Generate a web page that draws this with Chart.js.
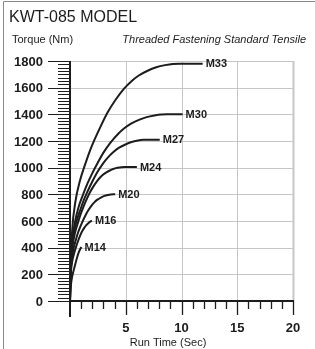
<!DOCTYPE html>
<html>
<head>
<meta charset="utf-8">
<script src="https://cdn.jsdelivr.net/npm/chart.js@4/dist/chart.umd.min.js"></script>
<style>
  html, body { margin: 0; padding: 0; background: #fff; }
  #wrap { width: 315px; height: 349px; }
</style>
</head>
<body>
<div id="wrap"><canvas id="torqueChart" width="315" height="349"></canvas></div>
<script>
// Bolt sizes (curve labels)
const boltSizes = ["M33", "M30", "M27", "M24", "M20", "M16", "M14"];

// Run time (sec) / torque (Nm)
const m33Time = [0, 0.05, 0.2, 0.49, 0.88, 1.32, 1.76, 2.2, 2.74, 3.38, 4.12, 4.85, 5.49, 6.17, 6.96, 7.74, 8.53, 9.21, 9.8, 11.9];
const m33Torque = [0, 249, 534, 748, 899, 1015, 1121, 1210, 1308, 1415, 1513, 1593, 1647, 1691, 1727, 1753, 1769, 1778, 1780, 1780];

const m30Time = [0, 0.04, 0.17, 0.44, 0.78, 1.17, 1.57, 1.96, 2.44, 3.0, 3.65, 4.31, 4.87, 5.48, 6.18, 6.87, 7.57, 8.18, 8.7, 10.1];
const m30Torque = [0, 196, 420, 588, 707, 798, 882, 952, 1029, 1113, 1190, 1253, 1295, 1330, 1358, 1379, 1392, 1399, 1400, 1400];

const m27Time = [0, 0.035, 0.14, 0.35, 0.63, 0.95, 1.26, 1.58, 1.96, 2.42, 2.94, 3.47, 3.92, 4.41, 4.97, 5.53, 6.09, 6.58, 7.0, 8.05];
const m27Torque = [0, 169, 363, 508, 611, 690, 762, 823, 889, 962, 1029, 1083, 1119, 1150, 1174, 1192, 1203, 1209, 1210, 1210];

const m24Time = [0, 0.025, 0.1, 0.25, 0.44, 0.66, 0.88, 1.1, 1.37, 1.69, 2.06, 2.43, 2.74, 3.09, 3.48, 3.87, 4.26, 4.61, 4.9, 6.0];
const m24Torque = [0, 141, 302, 422, 508, 573, 633, 683, 739, 799, 854, 899, 930, 955, 975, 990, 999, 1004, 1005, 1005];

const m20Time = [0, 0.02, 0.08, 0.2, 0.35, 0.53, 0.7, 0.88, 1.09, 1.35, 1.64, 1.93, 2.18, 2.46, 2.77, 3.08, 3.39, 3.67, 3.9, 4.05];
const m20Torque = [0, 112, 240, 336, 404, 460, 508, 548, 590, 636, 680, 716, 740, 760, 776, 788, 795, 799, 800, 800];

const m16Time = [0, 0.013, 0.052, 0.13, 0.23, 0.35, 0.47, 0.59, 0.73, 0.9, 1.09, 1.29, 1.46, 1.64, 1.85, 1.97];
const m16Torque = [0, 86, 185, 258, 311, 351, 387, 418, 452, 489, 523, 550, 569, 584, 597, 602];

const m14Time = [0, 0.02, 0.08, 0.2, 0.36, 0.5, 0.65, 0.8, 0.92, 1.03];
const m14Torque = [0, 60, 120, 185, 240, 285, 330, 368, 390, 405];

// Axis ticks
const xTickLabels = [5, 10, 15, 20];
const yTickLabels = [0, 200, 400, 600, 800, 1000, 1200, 1400, 1600, 1800];

const times = [m33Time, m30Time, m27Time, m24Time, m20Time, m16Time, m14Time];
const torques = [m33Torque, m30Torque, m27Torque, m24Torque, m20Torque, m16Torque, m14Torque];

const FONT = "'Liberation Sans', Arial, Helvetica, sans-serif";

const datasets = boltSizes.map((name, i) => ({
  label: name,
  data: times[i].map((t, j) => ({ x: t, y: torques[i][j] })),
  borderColor: "#1c1c1c",
  borderWidth: 2,
  pointRadius: 0,
  fill: false,
  cubicInterpolationMode: "monotone",
}));

// grid, axes, ticks and all text
const chartFrame = {
  id: "chartFrame",
  beforeDatasetsDraw(chart) {
    const { ctx, chartArea: a, scales: { x, y } } = chart;
    ctx.save();
    // outer border (top + left)
    ctx.strokeStyle = "#8a8a8a";
    ctx.lineWidth = 1;
    ctx.beginPath();
    ctx.moveTo(3.5, 349);
    ctx.lineTo(3.5, 1.5);
    ctx.lineTo(315, 1.5);
    ctx.stroke();

    ctx.strokeStyle = "#c6c6c6";
    yTickLabels.forEach((v) => {
      if (v === 0) return;
      const py = Math.round(y.getPixelForValue(v)) + 0.5;
      ctx.beginPath();
      ctx.moveTo(a.left, py);
      ctx.lineTo(a.right, py);
      ctx.stroke();
    });
    xTickLabels.forEach((v) => {
      const px = Math.round(x.getPixelForValue(v)) + 0.5;
      ctx.lineWidth = v === 20 ? 2 : 1;
      ctx.beginPath();
      ctx.moveTo(px, a.top);
      ctx.lineTo(px, a.bottom);
      ctx.stroke();
    });
    ctx.restore();
  },
  afterDatasetsDraw(chart) {
    const { ctx, chartArea: a, scales: { x, y } } = chart;
    ctx.save();
    ctx.strokeStyle = "#1c1c1c";

    // y minor/major ticks (every 25 Nm)
    ctx.lineWidth = 1;
    for (let v = 0; v <= 1800; v += 25) {
      const py = Math.round(y.getPixelForValue(v)) + 0.5;
      const len = v % 200 === 0 ? 22 : 12;
      ctx.beginPath();
      ctx.moveTo(a.left - len, py);
      ctx.lineTo(a.left, py);
      ctx.stroke();
    }
    // x ticks (every second)
    ctx.lineWidth = 1.3;
    for (let t = 1; t <= 20; t++) {
      const px = Math.round(x.getPixelForValue(t)) + 0.5;
      const len = t % 5 === 0 ? 14 : 8;
      ctx.beginPath();
      ctx.moveTo(px, a.bottom);
      ctx.lineTo(px, a.bottom + len);
      ctx.stroke();
    }
    // axis lines
    ctx.lineWidth = 2;
    ctx.beginPath();
    ctx.moveTo(a.left, a.top);
    ctx.lineTo(a.left, a.bottom + 16);
    ctx.stroke();
    ctx.beginPath();
    ctx.moveTo(a.left, a.bottom);
    ctx.lineTo(x.getPixelForValue(20) + 1, a.bottom);
    ctx.stroke();

    // tick labels
    ctx.fillStyle = "#1c1c1c";
    ctx.font = "bold 13px " + FONT;
    ctx.textAlign = "right";
    ctx.textBaseline = "alphabetic";
    yTickLabels.forEach((v) => {
      ctx.fillText(String(v), 43, y.getPixelForValue(v) + 4.6);
    });
    ctx.textAlign = "center";
    xTickLabels.forEach((v) => {
      ctx.fillText(String(v), x.getPixelForValue(v), 332);
    });

    // curve labels
    ctx.font = "bold 11px " + FONT;
    ctx.textAlign = "left";
    ctx.textBaseline = "middle";
    chart.data.datasets.forEach((ds) => {
      const last = ds.data[ds.data.length - 1];
      ctx.fillText(ds.label, x.getPixelForValue(last.x) + 3, y.getPixelForValue(last.y) + 0.5);
    });

    // titles
    ctx.textBaseline = "alphabetic";
    ctx.font = "16px " + FONT;
    ctx.fillText("KWT-085 MODEL", 9, 22);
    ctx.font = "11px " + FONT;
    ctx.fillText("Torque (Nm)", 12, 43);
    ctx.textAlign = "right";
    ctx.font = "italic 11px " + FONT;
    ctx.fillText("Threaded Fastening Standard Tensile", 306, 43);
    ctx.textAlign = "center";
    ctx.font = "11px " + FONT;
    ctx.fillText("Run Time (Sec)", 168, 346);
    ctx.restore();
  },
};

const torqueCtx = document.getElementById("torqueChart").getContext("2d");
const torqueChart = new Chart(torqueCtx, {
  type: "line",
  data: { datasets },
  options: {
    responsive: false,
    animation: false,
    devicePixelRatio: 1,
    layout: { padding: { left: 70, right: 22, top: 61, bottom: 48 } },
    plugins: {
      legend: { display: false },
      tooltip: { enabled: false },
    },
    scales: {
      x: { type: "linear", min: 0, max: 20, display: false },
      y: { type: "linear", min: 0, max: 1800, display: false },
    },
  },
  plugins: [chartFrame],
});
</script>
</body>
</html>
